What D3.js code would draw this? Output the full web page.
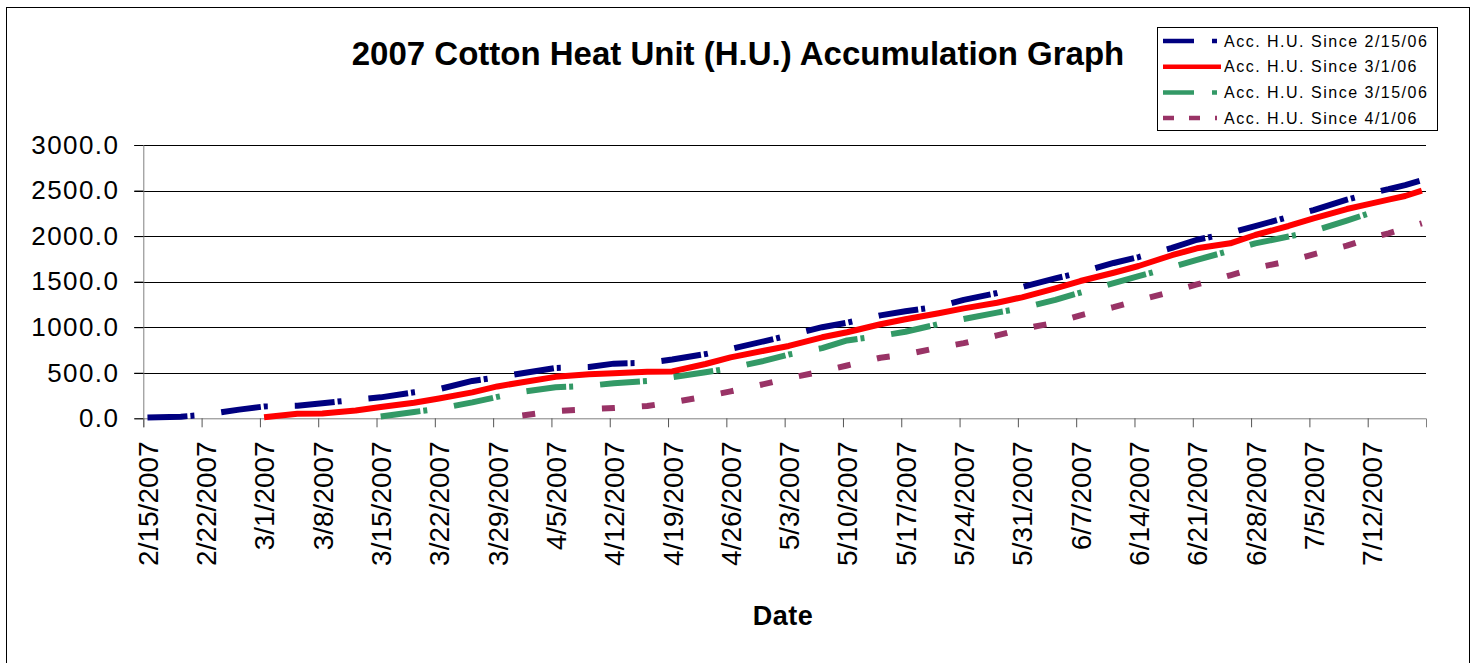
<!DOCTYPE html>
<html>
<head>
<meta charset="utf-8">
<script src="https://cdn.jsdelivr.net/npm/d3@7"></script>
<style>
    body { margin: 0; background: #fff; }
    text { font-family: Arial, "Liberation Sans", sans-serif; fill: #000; }
</style>
</head>
<body>
<svg id="chart" width="1477" height="663"></svg>
<script>
// Sample dates (readings taken about twice a week off the graph)
var dates = [
    '2/15/2007', '2/19/2007', '2/22/2007', '2/26/2007', '3/1/2007', '3/5/2007',
    '3/8/2007', '3/12/2007', '3/15/2007', '3/19/2007', '3/22/2007', '3/26/2007',
    '3/29/2007', '4/1/2007', '4/5/2007', '4/9/2007', '4/12/2007', '4/16/2007',
    '4/19/2007', '4/23/2007', '4/26/2007', '4/30/2007', '5/3/2007', '5/7/2007',
    '5/10/2007', '5/14/2007', '5/17/2007', '5/21/2007', '5/24/2007', '5/28/2007',
    '5/31/2007', '6/4/2007', '6/7/2007', '6/11/2007', '6/14/2007', '6/18/2007',
    '6/21/2007', '6/25/2007', '6/28/2007', '7/2/2007', '7/5/2007', '7/9/2007',
    '7/12/2007', '7/14/2007', '7/16/2007', '7/18/2007'
];

var since0215 = [
    8, 18, 40, 95, 130, 138, 165, 205, 230, 285, 320, 410,
    450, 495, 552, 564, 600, 610, 645, 705, 760, 845, 910, 1000,
    1050, 1130, 1175, 1228, 1300, 1375, 1440, 1535, 1600, 1705, 1770, 1870,
    1960, 2035, 2110, 2210, 2285, 2400, 2475, 2515, 2560, 2612
];

var since0301 = [
    null, null, null, null, 12, 50, 52, 85, 125, 171, 217, 285,
    350, 395, 455, 483, 494, 510, 515, 596, 669, 742, 794, 889,
    945, 1032, 1087, 1153, 1207, 1269, 1328, 1427, 1507, 1598, 1672, 1790,
    1866, 1921, 2012, 2111, 2195, 2297, 2360, 2400, 2440, 2500
];

var since0315 = [
    null, null, null, null, null, null, null, null, 20, 70, 105, 175,
    235, 290, 340, 357, 385, 410, 450, 505, 550, 630, 700, 770,
    855, 905, 950, 1035, 1090, 1160, 1210, 1300, 1380, 1485, 1560, 1660,
    1740, 1840, 1920, 1995, 2055, 2170, 2260, 2320, null, null
];

var since0401 = [
    null, null, null, null, null, null, null, null, null, null, null, null,
    null, 30, 80, 100, 112, 135, 175, 240, 295, 375, 440, 515,
    580, 665, 700, 775, 825, 910, 980, 1050, 1130, 1220, 1295, 1390,
    1470, 1570, 1650, 1725, 1800, 1895, 1985, 2030, 2085, 2140
];

var seriesNames = [
    'Acc. H.U. Since 2/15/06',
    'Acc. H.U. Since 3/1/06',
    'Acc. H.U. Since 3/15/06',
    'Acc. H.U. Since 4/1/06'
];

var xTickLabels = [
    '2/15/2007', '2/22/2007', '3/1/2007', '3/8/2007', '3/15/2007', '3/22/2007',
    '3/29/2007', '4/5/2007', '4/12/2007', '4/19/2007', '4/26/2007', '5/3/2007',
    '5/10/2007', '5/17/2007', '5/24/2007', '5/31/2007', '6/7/2007', '6/14/2007',
    '6/21/2007', '6/28/2007', '7/5/2007', '7/12/2007'
];

var yTicks = [0, 500, 1000, 1500, 2000, 2500, 3000];

var parseDate = d3.timeParse('%m/%d/%Y');

var svg = d3.select('#chart');

var plot = { left: 143.3, right: 1426, top: 145, bottom: 418.3 };

var x = d3.scaleTime()
    .domain([parseDate('2/15/2007'), parseDate('7/19/2007')])
    .range([plot.left, plot.right]);

var y = d3.scaleLinear()
    .domain([0, 3000])
    .range([plot.bottom, plot.top]);

// points sit in the middle of each day, between the tick marks
var xMid = function(s) {
    return x(d3.timeHour.offset(parseDate(s), 12));
};

// outer chart border
svg.append('rect')
    .attr('x', 6.5)
    .attr('y', 7.5)
    .attr('width', 1463)
    .attr('height', 700)
    .attr('fill', 'none')
    .attr('stroke', '#000')
    .attr('stroke-width', 1);

// horizontal gridlines
svg.append('g')
    .selectAll('line')
    .data(yTicks.filter(function(d) { return d > 0; }))
    .enter().append('line')
        .attr('x1', plot.left - 9)
        .attr('x2', plot.right)
        .attr('y1', function(d) { return Math.round(y(d)) + 0.5; })
        .attr('y2', function(d) { return Math.round(y(d)) + 0.5; })
        .attr('stroke', '#000')
        .attr('stroke-width', 1);

var yAxis = svg.append('g')
    .attr('transform', 'translate(' + plot.left + ',0)')
    .call(d3.axisLeft(y)
        .tickValues(yTicks)
        .tickSize(9)
        .tickPadding(15)
        .tickFormat(d3.format('.1f')));
yAxis.select('.domain').attr('stroke', '#808080');
yAxis.selectAll('.tick line').attr('stroke', '#000');
yAxis.selectAll('text')
    .style('font-size', '26px')
    .style('letter-spacing', '1.4px');

var xAxis = svg.append('g')
    .attr('transform', 'translate(0,' + plot.bottom + ')')
    .call(d3.axisBottom(x)
        .tickValues(xTickLabels.map(parseDate))
        .tickSize(9)
        .tickFormat(d3.timeFormat('%-m/%-d/%Y')));
xAxis.select('.domain').attr('stroke', '#808080');
xAxis.selectAll('.tick line').attr('stroke', '#555');
xAxis.selectAll('text')
    .attr('transform', 'rotate(-90)')
    .attr('x', -23)
    .attr('y', 14)
    .attr('dy', 0)
    .style('text-anchor', 'end')
    .style('font-size', '28px');

var series = [
    { name: seriesNames[0], values: since0215, color: '#000080', dash: '40,3,4,27', legendDash: '31,18,5,10' },
    { name: seriesNames[1], values: since0301, color: '#FF0000', dash: null, legendDash: null },
    { name: seriesNames[2], values: since0315, color: '#339966', dash: '40,3,4,27', legendDash: '31,18,5,10' },
    { name: seriesNames[3], values: since0401, color: '#993366', dash: '13,27', legendDash: '11,15,11,15,2,20' }
];

var line = d3.line()
    .defined(function(d) { return d.v !== null; })
    .x(function(d) { return xMid(d.date); })
    .y(function(d) { return y(d.v); });

series.forEach(function(s) {
    var pts = dates.map(function(dt, i) {
        return { date: dt, v: s.values[i] };
    });
    svg.append('path')
        .datum(pts)
        .attr('d', line)
        .attr('fill', 'none')
        .attr('stroke', s.color)
        .attr('stroke-width', 6)
        .attr('stroke-linejoin', 'round')
        .attr('stroke-dasharray', s.dash);
});

// title
svg.append('text')
    .attr('x', 738)
    .attr('y', 65)
    .attr('text-anchor', 'middle')
    .style('font-size', '33px')
    .style('font-weight', 'bold')
    .text('2007 Cotton Heat Unit (H.U.) Accumulation Graph');

// x axis title
svg.append('text')
    .attr('x', 783)
    .attr('y', 625)
    .attr('text-anchor', 'middle')
    .style('font-size', '27px')
    .style('font-weight', 'bold')
    .style('letter-spacing', '0.5px')
    .text('Date');

// legend
var legend = svg.append('g');
legend.append('rect')
    .attr('x', 1157.5)
    .attr('y', 27.5)
    .attr('width', 280)
    .attr('height', 103)
    .attr('fill', '#fff')
    .attr('stroke', '#000')
    .attr('stroke-width', 1);

var row = legend.selectAll('.legend-row')
    .data(series)
    .enter().append('g')
        .attr('class', 'legend-row')
        .attr('transform', function(d, i) {
            return 'translate(0,' + (41 + i * 25.7) + ')';
        });
row.append('line')
    .attr('x1', 1163)
    .attr('x2', 1221)
    .attr('stroke', function(d) { return d.color; })
    .attr('stroke-width', 4.5)
    .attr('stroke-dasharray', function(d) { return d.legendDash; });
row.append('text')
    .attr('x', 1224)
    .attr('dy', '0.36em')
    .style('font-size', '16px')
    .style('letter-spacing', '1.5px')
    .text(function(d) { return d.name; });
</script>
</body>
</html>
